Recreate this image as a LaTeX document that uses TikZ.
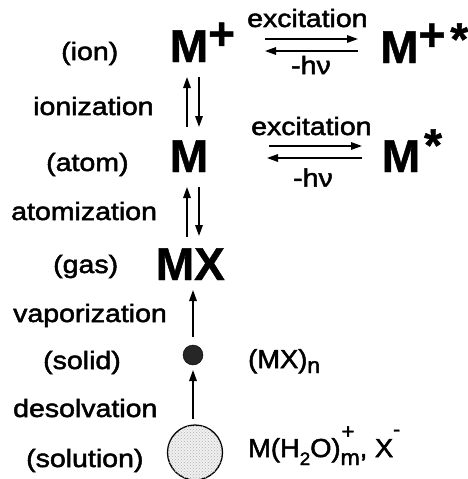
\documentclass[tikz,border=0pt]{standalone}
\usepackage{fontspec}
\setmainfont{Liberation Sans}
\newfontfamily\labfont[FakeStretch=1.14,FakeBold=2]{Liberation Sans}
\newfontfamily\chemfont[FakeStretch=1.05,FakeBold=2]{Liberation Sans}
\newfontfamily\bigfont[FakeBold=1]{Liberation Sans Bold}
\usetikzlibrary{arrows.meta,patterns}
\begin{document}
\begin{tikzpicture}[x=1pt,y=-1pt,
 lab/.style={anchor=base west,inner sep=0pt,font=\labfont\fontsize{25}{30}\selectfont},
 chem/.style={anchor=base west,inner sep=0pt,font=\chemfont\fontsize{26}{30}\selectfont},
 big/.style={anchor=base west,inner sep=0pt,font=\bigfont\fontsize{46}{50}\selectfont},
 arr/.style={line width=1.6pt,-{Triangle[length=11pt,width=7.5pt]}},
]
\useasboundingbox (0,0) rectangle (468,479);
% species
\node[big] (ion) at (169.6,62) {M\raisebox{12.5pt}{+}};
\node[big] (ionx) at (380,63) {M\raisebox{12.5pt}{+}\kern5pt\raisebox{8pt}{*}};
\node[big] (atom) at (169.6,172) {M};
\node[big] (atomx) at (381.6,172) {M\kern4pt\raisebox{11pt}{*}};
\node[big] (gas) at (155.6,280) {MX};
% left labels
\node[lab] (lion) at (61,60) {(ion)};
\node[lab] (lioniz) at (33,115) {ionization};
\node[lab] (latom) at (46,171) {(atom)};
\node[lab] (latomiz) at (11,220) {atomization};
\node[lab] (lgas) at (53,273) {(gas)};
\node[lab] (lvap) at (13,322) {vaporization};
\node[lab] (lsolid) at (43,369) {(solid)};
\node[lab] (ldesol) at (13,417) {desolvation};
\node[lab] (lsoln) at (26,467) {(solution)};
% excitation labels
\node[lab] (exc1) at (247,27) {excitation};
\node[lab] (hv1) at (291,74) {-hν};
\node[lab] (exc2) at (251,135) {excitation};
\node[lab] (hv2) at (293,186.5) {-hν};
% particles
\node[circle,fill=black!85,draw=black,minimum size=20pt,inner sep=0pt] (solid) at (193,355) {};
\node[circle,fill=black!6,draw=black,line width=1.3pt,minimum size=55pt,inner sep=0pt,
      postaction={pattern=crosshatch dots,pattern color=black!30}] (soln) at (195,452.5) {};
% formulas
\node[chem] (mxn) at (248,368) {(MX)\raisebox{-5pt}{\fontsize{22}{22}\selectfont n}};
\node[chem] (mh2o) at (248,457) {M(H\raisebox{-8pt}{\fontsize{18}{18}\selectfont 2}O)\rlap{\raisebox{18.5pt}{\fontsize{21}{21}\selectfont\kern1pt +}}\raisebox{-8pt}{\fontsize{22}{22}\selectfont m}, X\raisebox{21pt}{\fontsize{20}{20}\selectfont -}};
% arrow end points
\coordinate (a1l) at (265,39); \coordinate (a1r) at (358,39);
\coordinate (b1l) at (265,51); \coordinate (b1r) at (358,51);
\coordinate (a2l) at (269,146); \coordinate (a2r) at (362,146);
\coordinate (b2l) at (267,158); \coordinate (b2r) at (362,158);
\coordinate (v1ub) at (187,127); \coordinate (v1ut) at (187,77);
\coordinate (v1dt) at (199,77); \coordinate (v1db) at (199,127);
\coordinate (v2ub) at (187,237); \coordinate (v2ut) at (187,187);
\coordinate (v2dt) at (199,187); \coordinate (v2db) at (199,236);
\coordinate (s1b) at (193,337); \coordinate (s1t) at (193,290);
\coordinate (s2b) at (193,419); \coordinate (s2t) at (193,370);
% arrows
\draw[arr] (a1l) -- (a1r);
\draw[arr] (b1r) -- (b1l);
\draw[arr] (a2l) -- (a2r);
\draw[arr] (b2r) -- (b2l);
\draw[arr] (v1ub) -- (v1ut);
\draw[arr] (v1dt) -- (v1db);
\draw[arr] (v2ub) -- (v2ut);
\draw[arr] (v2dt) -- (v2db);
\draw[arr] (s1b) -- (s1t);
\draw[arr] (s2b) -- (s2t);
\end{tikzpicture}
\end{document}
